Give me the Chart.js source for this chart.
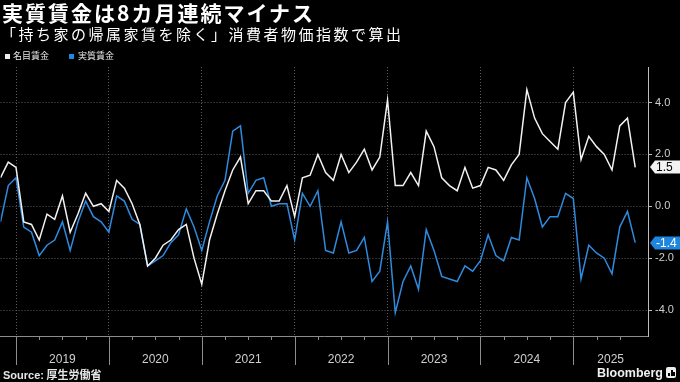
<!DOCTYPE html>
<html>
<head>
<meta charset="utf-8">
<script src="https://cdn.jsdelivr.net/npm/chart.js@4.4.1/dist/chart.umd.min.js"></script>
<style>
html,body{margin:0;padding:0;background:#000;}
#wrap{position:relative;width:680px;height:382px;background:#000;overflow:hidden;font-family:"Noto Sans CJK JP","Noto Sans",sans-serif;color:#fff;}
canvas{position:absolute;left:0;top:0;}
#title{position:absolute;left:2px;top:-1px;font-size:21px;font-weight:bold;letter-spacing:2px;white-space:nowrap;line-height:26px;}
#sub{position:absolute;left:1px;top:24px;font-size:15px;letter-spacing:2.5px;white-space:nowrap;line-height:20px;}
.sq{position:absolute;top:54px;width:5px;height:5px;}
.lt{position:absolute;top:50px;font-size:9px;line-height:12px;white-space:nowrap;color:#e6e6e6;}
#src{position:absolute;left:3px;top:367px;font-size:11px;line-height:14px;font-weight:bold;color:#e6e6e6;white-space:nowrap;}
#src .en{font-family:"Liberation Sans Narrow","Liberation Sans",sans-serif;}
#bb{position:absolute;left:597px;top:366px;font-family:"Liberation Sans",Arial,sans-serif;font-weight:bold;font-size:12.5px;line-height:15px;color:#f0f0f0;white-space:nowrap;}
#icon{position:absolute;left:666px;top:367px;width:10px;height:11px;background:#eee;border-radius:2px;}
#icon i{position:absolute;bottom:2px;width:2px;background:#000;}
</style>
</head>
<body>
<div id="wrap">
  <canvas id="c" width="680" height="382"></canvas>
  <div id="title">実質賃金は8カ月連続マイナス</div>
  <div id="sub">「持ち家の帰属家賃を除く」消費者物価指数で算出</div>
  <div class="sq" style="left:5px;background:#eeeeee"></div>
  <div class="lt" style="left:13px">名目賃金</div>
  <div class="sq" style="left:69px;background:#1e88e5"></div>
  <div class="lt" style="left:78px">実質賃金</div>
  <div id="src"><span class="en">Source:</span> 厚生労働省</div>
  <div id="bb">Bloomberg</div>
  <div id="icon"><i style="left:2px;height:3px"></i><i style="left:4.5px;height:6px"></i><i style="left:7px;height:4px"></i></div>
</div>
<script>
// ---- Data (monthly, y/y %) ----
const months = [
  '2018-10','2018-11','2018-12',
  '2019-01','2019-02','2019-03','2019-04','2019-05','2019-06','2019-07','2019-08','2019-09','2019-10','2019-11','2019-12',
  '2020-01','2020-02','2020-03','2020-04','2020-05','2020-06','2020-07','2020-08','2020-09','2020-10','2020-11','2020-12',
  '2021-01','2021-02','2021-03','2021-04','2021-05','2021-06','2021-07','2021-08','2021-09','2021-10','2021-11','2021-12',
  '2022-01','2022-02','2022-03','2022-04','2022-05','2022-06','2022-07','2022-08','2022-09','2022-10','2022-11','2022-12',
  '2023-01','2023-02','2023-03','2023-04','2023-05','2023-06','2023-07','2023-08','2023-09','2023-10','2023-11','2023-12',
  '2024-01','2024-02','2024-03','2024-04','2024-05','2024-06','2024-07','2024-08','2024-09','2024-10','2024-11','2024-12',
  '2025-01','2025-02','2025-03','2025-04','2025-05','2025-06','2025-07','2025-08'
];
// 名目賃金 (nominal wages)
const nominalWages = [
  1.1, 1.7, 1.5,
  -0.6, -0.7, -1.3, -0.3, -0.5, 0.4, -1.0, -0.3, 0.5, 0.0, 0.1, -0.2,
  1.0, 0.7, 0.1, -0.7, -2.3, -2.0, -1.5, -1.3, -0.9, -0.7, -2.0, -3.0,
  -1.3, -0.3, 0.6, 1.4, 1.9, 0.1, 0.6, 0.6, 0.2, 0.2, 0.8, -0.4,
  1.1, 1.2, 2.0, 1.3, 1.0, 2.0, 1.3, 1.7, 2.2, 1.4, 1.9, 4.1,
  0.8, 0.8, 1.3, 0.8, 2.9, 2.3, 1.1, 0.8, 0.6, 1.5, 0.7, 0.8,
  1.5, 1.4, 1.0, 1.6, 2.0, 4.5, 3.4, 2.8, 2.5, 2.2, 4.0, 4.4,
  1.8, 2.7, 2.3, 2.0, 1.4, 3.1, 3.4, 1.5
];
// 実質賃金 (real wages)
const realWages = [
  -0.6, 0.8, 1.1,
  -0.8, -1.0, -1.9, -1.5, -1.3, -0.6, -1.7, -0.6, 0.2, -0.4, -0.6, -1.0,
  0.4, 0.2, -0.5, -0.7, -2.3, -2.1, -1.9, -1.4, -1.1, -0.1, -0.8, -1.7,
  -0.6, 0.4, 1.0, 2.9, 3.1, 0.5, 1.0, 1.1, 0.0, 0.1, 0.1, -1.3,
  0.5, 0.0, 0.6, -1.7, -1.8, -0.6, -1.8, -1.7, -1.2, -2.9, -2.5, -0.6,
  -4.1, -2.9, -2.3, -3.2, -0.9, -1.7, -2.7, -2.8, -2.9, -2.3, -2.5, -2.1,
  -1.1, -1.9, -2.1, -1.2, -1.3, 1.1, 0.3, -0.8, -0.4, -0.4, 0.5, 0.3,
  -2.8, -1.5, -1.8, -2.0, -2.6, -0.8, -0.2, -1.4
];
const seriesNames = ['名目賃金', '実質賃金'];
const yearLabels = ['2019','2020','2021','2022','2023','2024','2025'];
const yTickValues = [-4, -2, 0, 2, 4];

// ---- derived positions (from the month list) ----
const X_MAX = months.length - 1 + 1.65;
const boundaries = [];
months.forEach((m, i) => { if (m.endsWith('-12')) boundaries.push(i); });
const mids = boundaries.map((b, k) => k < boundaries.length - 1 ? (b + boundaries[k + 1]) / 2 : (b + X_MAX) / 2);
const quarterIdx = [];
months.forEach((m, i) => { const mm = m.slice(5); if (mm === '03' || mm === '06' || mm === '09') quarterIdx.push(i); });

const toXY = arr => arr.map((v, i) => ({x: i, y: v}));

const axisTicks = {
  id: 'axisTicks',
  afterDraw(chart) {
    const {ctx, chartArea, scales: {x}} = chart;
    ctx.save();
    ctx.strokeStyle = '#8c8c8c';
    ctx.lineWidth = 1;
    ctx.beginPath();
    boundaries.forEach(b => {
      const px = Math.round(x.getPixelForValue(b)) + 0.5;
      ctx.moveTo(px, chartArea.bottom);
      ctx.lineTo(px, chartArea.bottom + 29);
    });
    quarterIdx.forEach(q => {
      const px = Math.round(x.getPixelForValue(q)) + 0.5;
      ctx.moveTo(px, chartArea.bottom);
      ctx.lineTo(px, chartArea.bottom + 4);
    });
    ctx.stroke();
    ctx.restore();
  }
};

const lastLabels = {
  id: 'lastLabels',
  afterDraw(chart) {
    const {ctx, chartArea, scales: {y}} = chart;
    chart.data.datasets.forEach(ds => {
      const v = ds.data[ds.data.length - 1].y;
      const py = Math.round(y.getPixelForValue(v));
      const x0 = chartArea.right + 2;
      const h = 13;
      ctx.save();
      ctx.fillStyle = ds.tagColor;
      ctx.beginPath();
      ctx.moveTo(x0, py);
      ctx.lineTo(x0 + 5, py - h / 2);
      ctx.lineTo(chart.width, py - h / 2);
      ctx.lineTo(chart.width, py + h / 2);
      ctx.lineTo(x0 + 5, py + h / 2);
      ctx.closePath();
      ctx.fill();
      ctx.fillStyle = ds.tagText;
      ctx.font = '12px "Liberation Sans", Arial, sans-serif';
      ctx.textBaseline = 'middle';
      ctx.textAlign = 'left';
      ctx.fillText(v.toFixed(1), 656, py + 1);
      ctx.restore();
    });
  }
};

Chart.defaults.font.family = '"Liberation Sans", Arial, sans-serif';

new Chart(document.getElementById('c'), {
  type: 'line',
  data: {
    datasets: [
      {label: seriesNames[0], data: toXY(nominalWages), borderColor: '#f2f2f2', borderWidth: 1.5,
       pointRadius: 0, tension: 0, tagColor: '#f2f2f2', tagText: '#000'},
      {label: seriesNames[1], data: toXY(realWages), borderColor: '#2f8be0', borderWidth: 1.5,
       pointRadius: 0, tension: 0, tagColor: '#1f86e0', tagText: '#fff'}
    ]
  },
  options: {
    responsive: false,
    animation: false,
    devicePixelRatio: 1,
    layout: {padding: {top: 67, left: 0, right: 0, bottom: 0}},
    plugins: {legend: {display: false}, tooltip: {enabled: false}},
    scales: {
      x: {
        type: 'linear',
        min: 0,
        max: X_MAX,
        afterBuildTicks: s => { s.ticks = boundaries.concat(mids).sort((a, b) => a - b).map(v => ({value: v})); },
        afterFit: s => { s.height = 46; },
        grid: {
          display: true,
          drawTicks: false,
          color: c => (c.tick && boundaries.includes(c.tick.value)) ? '#5e5e5e' : 'rgba(0,0,0,0)',
          lineWidth: 1
        },
        border: {display: true, color: '#8c8c8c', width: 1, dash: [1, 2]},
        ticks: {
          autoSkip: false,
          maxRotation: 0,
          padding: 16,
          color: '#cfcfcf',
          font: {size: 12},
          callback: v => { const k = mids.indexOf(v); return k >= 0 ? yearLabels[k] : ''; }
        }
      },
      y: {
        position: 'right',
        min: -5,
        max: 5.37,
        afterBuildTicks: s => { s.ticks = yTickValues.map(v => ({value: v})); },
        afterFit: s => { s.width = 32; },
        grid: {color: '#5e5e5e', lineWidth: 1, drawTicks: true, tickLength: 4, tickColor: '#bdbdbd'},
        border: {display: true, color: '#bdbdbd', width: 1, dash: [1, 2]},
        ticks: {
          padding: 3,
          color: '#cfcfcf',
          font: {size: 11},
          callback: v => Number(v).toFixed(1)
        }
      }
    }
  },
  plugins: [axisTicks, lastLabels]
});
</script>
</body>
</html>
